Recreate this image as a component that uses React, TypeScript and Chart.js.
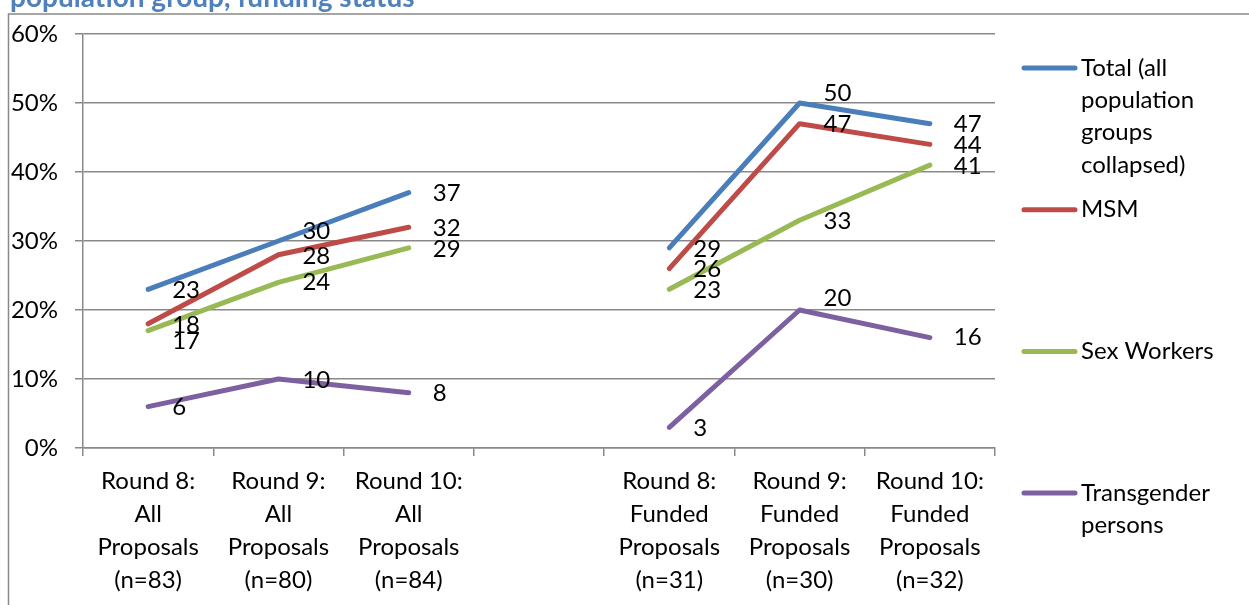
import React, { useEffect, useRef } from "react";
import { Chart, registerables } from "chart.js";

Chart.register(...registerables);

const categories: string[][] = [
  ["Round 8:", "All", "Proposals", "(n=83)"],
  ["Round 9:", "All", "Proposals", "(n=80)"],
  ["Round 10:", "All", "Proposals", "(n=84)"],
  [""],
  ["Round 8:", "Funded", "Proposals", "(n=31)"],
  ["Round 9:", "Funded", "Proposals", "(n=30)"],
  ["Round 10:", "Funded", "Proposals", "(n=32)"],
];

const totalValues = [23, 30, 37, null, 29, 50, 47];
const msmValues = [18, 28, 32, null, 26, 47, 44];
const sexWorkerValues = [17, 24, 29, null, 23, 33, 41];
const transgenderValues = [6, 10, 8, null, 3, 20, 16];

const seriesNames = [
  "Total (all population groups collapsed)",
  "MSM",
  "Sex Workers",
  "Transgender persons",
];
const seriesColors = ["#4A7EBB", "#BE4B48", "#98B954", "#7D60A0"];

const titleText = "population group, funding status";

// vertical nudges for data labels (styling only), per series per category
const labelNudge = [
  [1, -10, 1, 0, 1, -10, 1],
  [1, 1, 1, 0, 1, 1, 1],
  [11, 0, 1, 0, 1, 1, 1],
  [1, 1, 0, 0, 1, -12, 0],
];

const FONT = "Lato, 'Open Sans', sans-serif";
const FS = 24;
const GRID = "#898989";

const decorPlugin = {
  id: "decor",
  beforeDraw(chart: any) {
    const ctx = chart.ctx;
    ctx.save();
    ctx.strokeStyle = GRID;
    ctx.lineWidth = 1.5;
    ctx.beginPath();
    ctx.moveTo(8.5, 605);
    ctx.lineTo(8.5, 14);
    ctx.lineTo(1249, 14);
    ctx.stroke();
    ctx.fillStyle = "#4F81BD";
    ctx.font = `bold 28px ${FONT}`;
    ctx.textAlign = "left";
    ctx.textBaseline = "alphabetic";
    ctx.fillText(titleText, 10, 7);
    ctx.restore();
  },
  afterDatasetsDraw(chart: any) {
    const ctx = chart.ctx;
    ctx.save();
    ctx.font = `${FS}px ${FONT}`;
    ctx.fillStyle = "#000";
    ctx.textAlign = "left";
    ctx.textBaseline = "middle";
    chart.data.datasets.forEach((ds: any, di: number) => {
      const meta = chart.getDatasetMeta(di);
      meta.data.forEach((pt: any, i: number) => {
        const v = ds.data[i];
        if (v === null || v === undefined) return;
        ctx.fillText(String(v), pt.x + 24, pt.y + (labelNudge[di][i] || 0));
      });
    });
    ctx.restore();

    // legend
    ctx.save();
    ctx.font = `${FS}px ${FONT}`;
    ctx.textAlign = "left";
    ctx.textBaseline = "middle";
    const top = 68;
    const step = 141.7;
    const maxW = 160;
    chart.data.datasets.forEach((ds: any, di: number) => {
      const y = top + di * step;
      ctx.strokeStyle = ds.borderColor;
      ctx.lineWidth = 5;
      ctx.lineCap = "round";
      ctx.beginPath();
      ctx.moveTo(1024, y);
      ctx.lineTo(1075, y);
      ctx.stroke();
      const words = String(ds.label).split(" ");
      const lines: string[] = [];
      let cur = "";
      words.forEach((w) => {
        const test = cur ? cur + " " + w : w;
        if (ctx.measureText(test).width > maxW && cur) {
          lines.push(cur);
          cur = w;
        } else cur = test;
      });
      if (cur) lines.push(cur);
      ctx.fillStyle = "#000";
      lines.forEach((ln, k) => ctx.fillText(ln, 1081, y + k * 32.3));
    });
    ctx.restore();
  },
};

export default function App() {
  const ref = useRef<HTMLCanvasElement | null>(null);
  useEffect(() => {
    if (!ref.current) return;
    const allValues = [totalValues, msmValues, sexWorkerValues, transgenderValues];
    const chart = new Chart(ref.current, {
      type: "line",
      data: {
        labels: categories as any,
        datasets: allValues.map((vals, i) => ({
          label: seriesNames[i],
          data: vals as any,
          borderColor: seriesColors[i],
          backgroundColor: seriesColors[i],
          borderWidth: 5,
          pointRadius: 0,
          pointHoverRadius: 0,
          tension: 0,
          spanGaps: false,
          borderCapStyle: "round",
          borderJoinStyle: "round",
        })),
      },
      options: {
        responsive: false,
        animation: false,
        events: [],
        layout: { padding: { top: 34, right: 254, left: 0, bottom: 0 } },
        plugins: {
          legend: { display: false },
          tooltip: { enabled: false },
          title: { display: false },
        },
        scales: {
          x: {
            type: "category",
            offset: true,
            grid: {
              offset: true,
              drawOnChartArea: false,
              drawTicks: true,
              tickLength: 8,
              color: GRID,
              lineWidth: 1.5,
            },
            border: { display: true, color: GRID, width: 1.5 },
            ticks: {
              color: "#000",
              font: { family: FONT, size: FS, lineHeight: "33px" as any },
              padding: 9,
              maxRotation: 0,
              autoSkip: false,
            },
            afterFit(scale: any) {
              scale.height = 157;
            },
          },
          y: {
            min: 0,
            max: 60,
            ticks: {
              stepSize: 10,
              color: "#000",
              font: { family: FONT, size: FS },
              padding: 17,
              callback: (v: any) => v + "%",
            },
            grid: {
              color: GRID,
              lineWidth: 1.5,
              tickLength: 8,
            },
            border: { display: true, color: GRID, width: 1.5 },
            afterFit(scale: any) {
              scale.width = 83;
            },
          },
        },
      },
      plugins: [decorPlugin],
    });
    return () => chart.destroy();
  }, []);
  return (
    <div style={{ position: "fixed", left: 0, top: 0, width: 1249, height: 605, background: "#fff" }}>
      <canvas ref={ref} width={1249} height={605} style={{ width: 1249, height: 605 }} />
    </div>
  );
}
